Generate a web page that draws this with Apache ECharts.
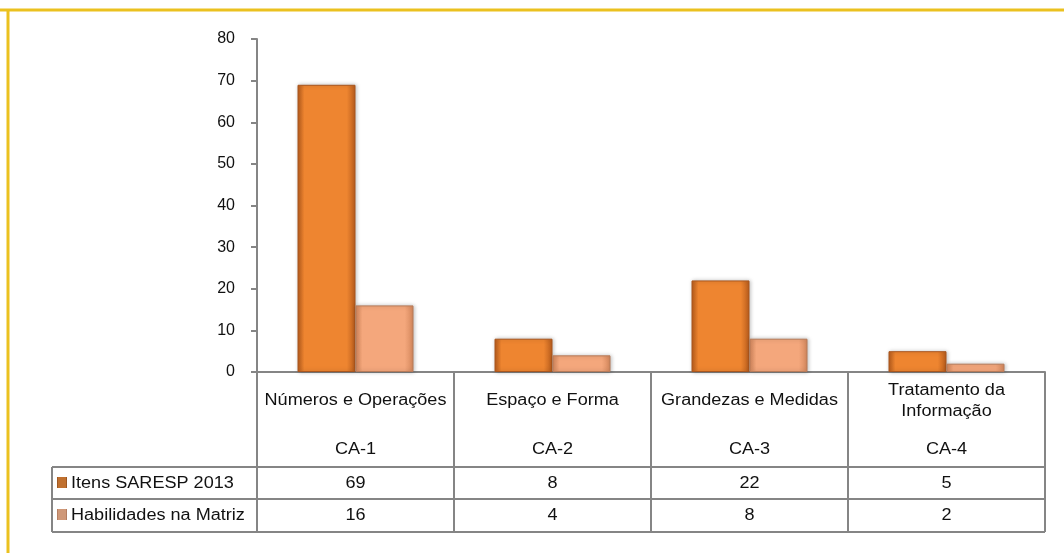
<!DOCTYPE html>
<html>
    <head>
        <meta charset="utf-8">
        <style>
            body { margin: 0; background: #fff; }
        </style>
    </head>
    <body>
        <div id="main" style="width:1064px;height:553px"></div>
        <script src="https://cdn.jsdelivr.net/npm/echarts@6/dist/echarts.min.js"></script>
        <script type="text/javascript">
            // dados do grafico
            var categorias = ['Números e Operações', 'Espaço e Forma', 'Grandezas e Medidas', 'Tratamento da\nInformação']
            var codigos = ['CA-1', 'CA-2', 'CA-3', 'CA-4']
            var serieNomes = ['Itens SARESP 2013', 'Habilidades na Matriz']
            var itens = [69, 8, 22, 5]
            var habilidades = [16, 4, 8, 2]
            var yTicks = [0, 10, 20, 30, 40, 50, 60, 70, 80]

            var gLeft = 257, gRight = 1045, gTop = 39, gBottom = 372
            var cinza = '#858585'
            var fonte = '"Liberation Sans", Arial, sans-serif'

            function grad(edge, mid) {
                return new echarts.graphic.LinearGradient(0, 0, 1, 0, [
                    { offset: 0, color: edge },
                    { offset: 0.12, color: mid },
                    { offset: 0.85, color: mid },
                    { offset: 1, color: edge }
                ])
            }

            var option = {
                animation: false,
                grid: { left: gLeft, right: 1064 - gRight, top: gTop, bottom: 553 - gBottom },
                xAxis: {
                    type: 'category',
                    data: categorias,
                    axisLine: { lineStyle: { color: cinza, width: 2 } },
                    axisTick: { show: false },
                    axisLabel: { show: false }
                },
                yAxis: {
                    type: 'value',
                    min: yTicks[0],
                    max: yTicks[yTicks.length - 1],
                    interval: 10,
                    axisLine: { show: true, lineStyle: { color: cinza, width: 2 } },
                    axisTick: { show: true, length: 6, lineStyle: { color: cinza, width: 2 } },
                    axisLabel: { color: '#111', fontSize: 16, fontFamily: fonte, margin: 22 },
                    splitLine: { show: false }
                },
                series: [{
                    name: serieNomes[0],
                    type: 'bar',
                    data: itens,
                    barWidth: 58,
                    barGap: '0%',
                    itemStyle: {
                        color: grad('#b85c1c', '#ee8530'),
                        borderColor: '#a9561e',
                        borderWidth: 1,
                        shadowColor: 'rgba(0,0,0,0.25)',
                        shadowBlur: 4,
                        shadowOffsetX: 1
                    }
                }, {
                    name: serieNomes[1],
                    type: 'bar',
                    data: habilidades,
                    barWidth: 58,
                    itemStyle: {
                        color: grad('#d4875c', '#f4a77c'),
                        borderColor: '#b77a58',
                        borderWidth: 1,
                        shadowColor: 'rgba(0,0,0,0.25)',
                        shadowBlur: 4,
                        shadowOffsetX: 1
                    }
                }],
                graphic: []
            }

            // tabela de dados
            var g = []
            var catW = (gRight - gLeft) / categorias.length
            var rowH = 467, r1 = 499, r2 = 532, tabLeft = 52
            var ln = { stroke: cinza, lineWidth: 2 }
            // moldura amarela
            g.push({ type: 'line', shape: { x1: 0, y1: 10, x2: 1064, y2: 10 }, style: { stroke: '#ebc11f', lineWidth: 3 } })
            g.push({ type: 'line', shape: { x1: 8, y1: 10, x2: 8, y2: 553 }, style: { stroke: '#ebc11f', lineWidth: 3 } })
            // linhas
            for (var i = 0; i <= categorias.length; i++) {
                var x = gLeft + i * catW
                g.push({ type: 'line', shape: { x1: x, y1: gBottom, x2: x, y2: r2 }, style: ln })
            }
            g.push({ type: 'line', shape: { x1: tabLeft, y1: rowH, x2: gRight, y2: rowH }, style: ln })
            g.push({ type: 'line', shape: { x1: tabLeft, y1: r1, x2: gRight, y2: r1 }, style: ln })
            g.push({ type: 'line', shape: { x1: tabLeft, y1: r2, x2: gRight, y2: r2 }, style: ln })
            g.push({ type: 'line', shape: { x1: tabLeft, y1: rowH, x2: tabLeft, y2: r2 }, style: ln })
            var txt = { fill: '#111', font: '16px ' + fonte, textAlign: 'center', textVerticalAlign: 'middle' }
            var sx = 1.13
            for (var i = 0; i < categorias.length; i++) {
                var cx = gLeft + (i + 0.5) * catW
                g.push({ type: 'text', x: cx, y: 401, scaleX: sx, style: Object.assign({}, txt, { text: categorias[i], lineHeight: 21 }) })
                g.push({ type: 'text', x: cx, y: 450, scaleX: sx, style: Object.assign({}, txt, { text: codigos[i] }) })
                g.push({ type: 'text', x: cx, y: 484, scaleX: sx, style: Object.assign({}, txt, { text: String(itens[i]) }) })
                g.push({ type: 'text', x: cx, y: 516, scaleX: sx, style: Object.assign({}, txt, { text: String(habilidades[i]) }) })
            }
            var cores = [grad('#8a4a1c', '#c0702f'), grad('#a56f55', '#cf9878')]
            var ys = [483, 515]
            for (var s = 0; s < 2; s++) {
                g.push({ type: 'rect', shape: { x: 57, y: ys[s] - 6, width: 10, height: 11 }, style: { fill: cores[s] } })
                g.push({ type: 'text', x: 71, y: ys[s] + 1, scaleX: sx, style: Object.assign({}, txt, { text: serieNomes[s], textAlign: 'left' }) })
            }
            option.graphic = g

            var mycharts = echarts.init(document.getElementById('main'))
            mycharts.setOption(option)
        </script>
    </body>
</html>
